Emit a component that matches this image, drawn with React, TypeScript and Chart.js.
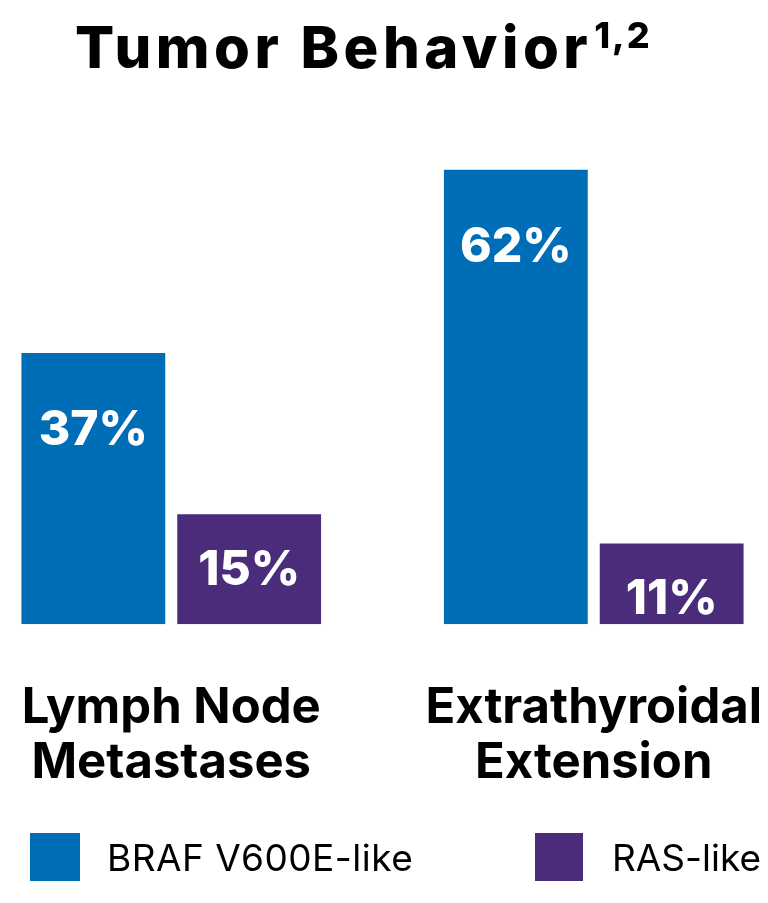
import { useEffect, useRef } from "react";
import { Chart, registerables } from "chart.js";

Chart.register(...registerables);

const categories = [
  ["Lymph Node", "Metastases"],
  ["Extrathyroidal", "Extension"],
];
const seriesNames = ["BRAF V600E-like", "RAS-like"];
const brafValues = [37, 62];
const rasValues = [15, 11];
const seriesColors = ["#006db7", "#4b2c7b"];
const yMax = 79;

const FONT = "Inter, 'Noto Sans', sans-serif";

// white % labels inside each bar
const valueLabels = {
  id: "valueLabels",
  afterDatasetsDraw(chart: any) {
    const ctx = chart.ctx;
    ctx.save();
    ctx.fillStyle = "#ffffff";
    ctx.font = `800 48px ${FONT}`;
    ctx.textAlign = "center";
    ctx.textBaseline = "middle";
    chart.data.datasets.forEach((ds: any, i: number) => {
      const meta = chart.getDatasetMeta(i);
      meta.data.forEach((bar: any, j: number) => {
        const h = bar.base - bar.y;
        const off = h > 200 ? 78 : 56;
        ctx.fillText(`${ds.data[j]}%`, bar.x, bar.y + off);
      });
    });
    ctx.restore();
  },
};

export default function App() {
  const canvasRef = useRef<HTMLCanvasElement>(null);

  useEffect(() => {
    document.body.style.margin = "0";
    if (!canvasRef.current) return;

    const chart = new Chart(canvasRef.current, {
      type: "bar",
      data: {
        labels: categories,
        datasets: [
          {
            label: seriesNames[0],
            data: brafValues,
            backgroundColor: seriesColors[0],
            barPercentage: 0.923,
            categoryPercentage: 0.7376,
          },
          {
            label: seriesNames[1],
            data: rasValues,
            backgroundColor: seriesColors[1],
            barPercentage: 0.923,
            categoryPercentage: 0.7376,
          },
        ],
      },
      options: {
        animation: false,
        responsive: true,
        maintainAspectRatio: false,
        layout: { padding: { left: 0, right: 0, top: 45, bottom: 56 } },
        plugins: {
          legend: { display: false },
          title: { display: false },
          tooltip: { enabled: false },
        },
        scales: {
          x: {
            grid: { display: false, drawTicks: false },
            border: { display: false },
            ticks: {
              color: "#000000",
              padding: 56,
              font: { family: FONT, size: 49, weight: "bold", lineHeight: 1.13 },
            },
          },
          y: { display: false, min: 0, max: yMax },
        },
      },
      plugins: [valueLabels],
    });

    return () => chart.destroy();
  }, []);

  return (
    <div style={{ position: "relative", width: 768, height: 903, overflow: "hidden", background: "#fff", fontFamily: FONT }}>
      {/* plot spans a bit wider than the page so the groups sit at the edges */}
      <div style={{ position: "absolute", left: -40, top: 0, width: 858, height: 903 }}>
        <canvas ref={canvasRef} />
      </div>
      <div
        style={{
          position: "absolute",
          left: 75,
          top: 18,
          fontSize: 58,
          lineHeight: "58px",
          fontWeight: 800,
          letterSpacing: 4.5,
          color: "#000",
          whiteSpace: "nowrap",
        }}
      >
        Tumor Behavior
        <span style={{ fontSize: 36, letterSpacing: 2, position: "relative", top: -20, marginLeft: 2 }}>1,2</span>
      </div>
      <div style={{ position: "absolute", left: 30, top: 833, display: "flex", alignItems: "center" }}>
        <div style={{ width: 50, height: 48, background: seriesColors[0] }} />
        <span style={{ marginLeft: 27, fontSize: 37, letterSpacing: 0.5, color: "#000" }}>{seriesNames[0]}</span>
      </div>
      <div style={{ position: "absolute", left: 535, top: 833, display: "flex", alignItems: "center" }}>
        <div style={{ width: 48, height: 48, background: seriesColors[1] }} />
        <span style={{ marginLeft: 29, fontSize: 37, color: "#000" }}>{seriesNames[1]}</span>
      </div>
    </div>
  );
}
